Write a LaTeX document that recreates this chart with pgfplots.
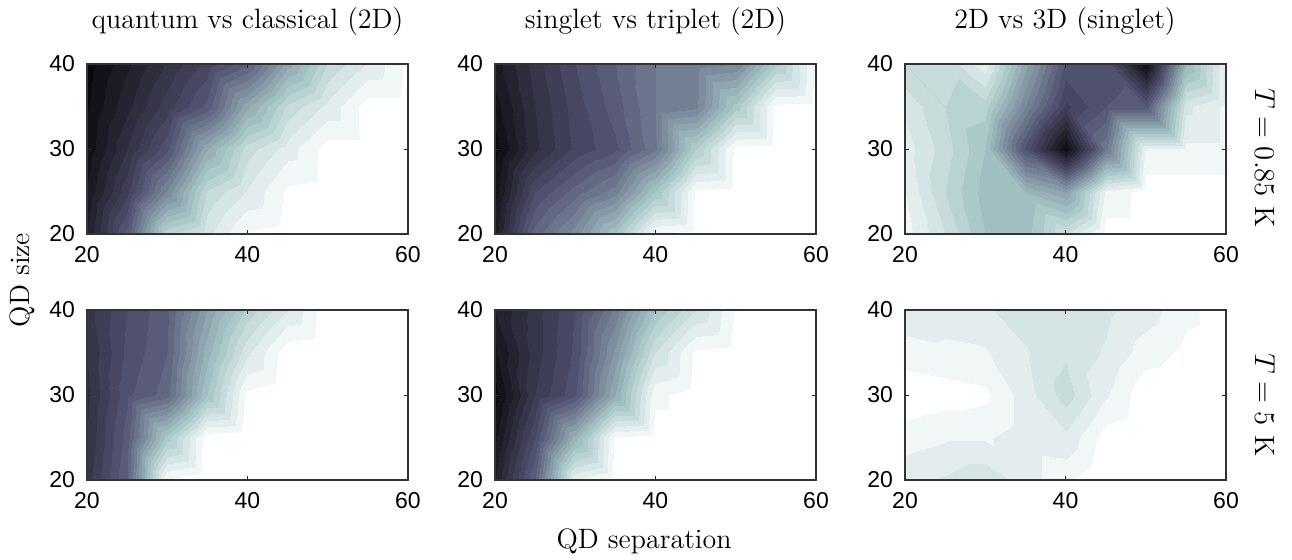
\documentclass[border=0pt]{standalone}
\usepackage{fontspec}
\usepackage{pgfplots}
\usepackage{pgfplotstable}
\pgfplotsset{compat=1.18}
\newfontfamily\tickfont{Liberation Sans}

\pgfplotstableread{
x y v
20 20 0.10
25 20 0.355
30 20 0.77
35 20 0.848
40 20 0.945
45 20 0.96
50 20 0.96
55 20 0.96
60 20 0.96
20 25 0.065
25 25 0.247
30 25 0.506
35 25 0.785
40 25 0.864
45 25 0.95
50 25 0.96
55 25 0.96
60 25 0.96
20 30 0.03
25 30 0.179
30 30 0.327
35 30 0.616
40 30 0.80
45 30 0.881
50 30 0.96
55 30 0.96
60 30 0.96
20 35 0.015
25 35 0.128
30 35 0.24
35 35 0.353
40 35 0.608
45 35 0.792
50 35 0.873
55 35 0.96
60 35 0.96
20 40 0.0
25 40 0.091
30 40 0.183
35 40 0.274
40 40 0.366
45 40 0.6
50 40 0.783
55 40 0.865
60 40 0.95
}\dataA

\pgfplotstableread{
x y v
20 20 0.08
25 20 0.40
30 20 0.52
35 20 0.70
40 20 0.945
45 20 0.96
50 20 0.96
55 20 0.96
60 20 0.96
20 25 0.04
25 25 0.30
30 25 0.40
35 25 0.48
40 25 0.70
45 25 0.95
50 25 0.96
55 25 0.96
60 25 0.96
20 30 0.00
25 30 0.17
30 30 0.27
35 30 0.33
40 30 0.45
45 30 0.74
50 30 0.955
55 30 0.96
60 30 0.96
20 35 0.04
25 35 0.18
30 35 0.28
35 35 0.36
40 35 0.46
45 35 0.49
50 35 0.72
55 35 0.955
60 35 0.96
20 40 0.08
25 40 0.20
30 40 0.30
35 40 0.38
40 40 0.46
45 40 0.48
50 40 0.50
55 40 0.73
60 40 0.95
}\dataB

\pgfplotstableread{
x y v
20 20 0.92
25 20 0.82
30 20 0.70
35 20 0.68
40 20 0.82
45 20 0.96
50 20 0.96
55 20 0.96
60 20 0.96
20 25 0.90
25 25 0.78
30 25 0.68
35 25 0.66
40 25 0.58
45 25 0.91
50 25 0.96
55 25 0.96
60 25 0.96
20 30 0.88
25 30 0.80
30 30 0.70
35 30 0.33
40 30 0.02
45 30 0.45
50 30 0.91
55 30 0.91
60 30 0.91
20 35 0.85
25 35 0.78
30 35 0.76
35 35 0.50
40 35 0.25
45 35 0.34
50 35 0.35
55 35 0.85
60 35 0.91
20 40 0.78
25 40 0.79
30 40 0.89
35 40 0.60
40 40 0.33
45 40 0.33
50 40 0.02
55 40 0.65
60 40 0.91
}\dataC

\pgfplotstableread{
x y v
20 20 0.20
25 20 0.38
30 20 0.945
35 20 0.98
40 20 0.98
45 20 0.98
50 20 0.98
55 20 0.98
60 20 0.98
20 25 0.18
25 25 0.36
30 25 0.72
35 25 0.97
40 25 0.98
45 25 0.98
50 25 0.98
55 25 0.98
60 25 0.98
20 30 0.17
25 30 0.33
30 30 0.40
35 30 0.70
40 30 0.95
45 30 0.98
50 30 0.98
55 30 0.98
60 30 0.98
20 35 0.18
25 35 0.31
30 35 0.38
35 35 0.64
40 35 0.85
45 35 0.97
50 35 0.98
55 35 0.98
60 35 0.98
20 40 0.20
25 40 0.30
30 40 0.37
35 40 0.58
40 40 0.75
45 40 0.86
50 40 0.97
55 40 0.98
60 40 0.98
}\dataD

\pgfplotstableread{
x y v
20 20 0.10
25 20 0.38
30 20 0.90
35 20 0.96
40 20 0.96
45 20 0.96
50 20 0.96
55 20 0.96
60 20 0.96
20 25 0.05
25 25 0.30
30 25 0.64
35 25 0.95
40 25 0.96
45 25 0.96
50 25 0.96
55 25 0.96
60 25 0.96
20 30 0.00
25 30 0.22
30 30 0.33
35 30 0.62
40 30 0.93
45 30 0.96
50 30 0.96
55 30 0.96
60 30 0.96
20 35 0.05
25 35 0.20
30 35 0.31
35 35 0.55
40 35 0.82
45 35 0.95
50 35 0.96
55 35 0.96
60 35 0.96
20 40 0.10
25 40 0.20
30 40 0.30
35 40 0.47
40 40 0.70
45 40 0.82
50 40 0.945
55 40 0.96
60 40 0.96
}\dataE

\pgfplotstableread{
x y v
20 20 0.87
25 20 0.855
30 20 0.83
35 20 0.88
40 20 0.93
45 20 0.98
50 20 0.98
55 20 0.98
60 20 0.96
20 25 0.92
25 25 0.905
30 25 0.905
35 25 0.88
40 25 0.87
45 25 0.96
50 25 0.98
55 25 0.98
60 25 0.98
20 30 0.97
25 30 0.96
30 30 0.95
35 30 0.88
40 30 0.80
45 30 0.895
50 30 0.97
55 30 0.98
60 30 0.98
20 35 0.92
25 35 0.91
30 35 0.905
35 35 0.865
40 35 0.825
45 35 0.865
50 35 0.92
55 35 0.95
60 35 0.96
20 40 0.87
25 40 0.88
30 40 0.865
35 40 0.84
40 40 0.825
45 40 0.85
50 40 0.88
55 40 0.93
60 40 0.96
}\dataF

\pgfplotsset{
  panel/.style={
    scale only axis, width=160.5pt, height=85pt, anchor=north west,
    xmin=20, xmax=60, ymin=20, ymax=40,
    xtick={20,40,60}, ytick={20,30,40},
    tick align=inside, xtick pos=both, ytick pos=both,
    xticklabel pos=lower, yticklabel pos=left,
    major tick length=2pt,
    tick style={black!85, line width=0.5pt},
    axis line style={black!80, line width=0.6pt},
    axis on top,
    colormap={bone}{rgb(0cm)=(0,0,0); rgb(3cm)=(0.328,0.328,0.453); rgb(6cm)=(0.656,0.781,0.781); rgb(8cm)=(1,1,1)},
    point meta min=-0.06, point meta max=0.98,
    /pgf/number format/assume math mode=true,
    tick label style={font=\tickfont\fontsize{11.5}{12}\selectfont},
    xticklabel style={yshift=-2.5pt},
    yticklabel style={xshift=-2.5pt},
  },
  cf/.style={contour filled={number=26}, mesh/cols=9, point meta=\thisrow{v}},
}

\begin{document}
\begin{tikzpicture}
\begin{axis}[panel, at={(43.5pt,-32pt)}]
\addplot[cf] table[x=x,y=y] {\dataA};
\end{axis}
\begin{axis}[panel, at={(247.5pt,-32pt)}]
\addplot[cf] table[x=x,y=y] {\dataB};
\end{axis}
\begin{axis}[panel, at={(452.5pt,-32pt)}]
\addplot[cf] table[x=x,y=y] {\dataC};
\end{axis}
\begin{axis}[panel, at={(43.5pt,-155pt)}]
\addplot[cf] table[x=x,y=y] {\dataD};
\end{axis}
\begin{axis}[panel, at={(247.5pt,-155pt)}]
\addplot[cf] table[x=x,y=y] {\dataE};
\end{axis}
\begin{axis}[panel, at={(452.5pt,-155pt)}]
\addplot[cf] table[x=x,y=y] {\dataF};
\end{axis}
\begin{scope}[every node/.style={font=\fontsize{14}{16}\selectfont}]
\node[anchor=base] at (123.75pt,-14pt) {quantum vs classical (2D)};
\node[anchor=base] at (327.75pt,-14pt) {singlet vs triplet (2D)};
\node[anchor=base] at (532.5pt,-14pt) {2D vs 3D (singlet)};
\node[rotate=90] at (11pt,-140pt) {QD size};
\node[anchor=base] at (322pt,-274pt) {QD separation};
\node[rotate=-90] at (632.5pt,-79pt) {$T=0.85$ K};
\node[rotate=-90] at (632.5pt,-202.5pt) {$T=5$ K};
\end{scope}
\pgfresetboundingbox
\path[use as bounding box] (0,0) rectangle (646pt,-279.5pt);
\end{tikzpicture}
\end{document}
